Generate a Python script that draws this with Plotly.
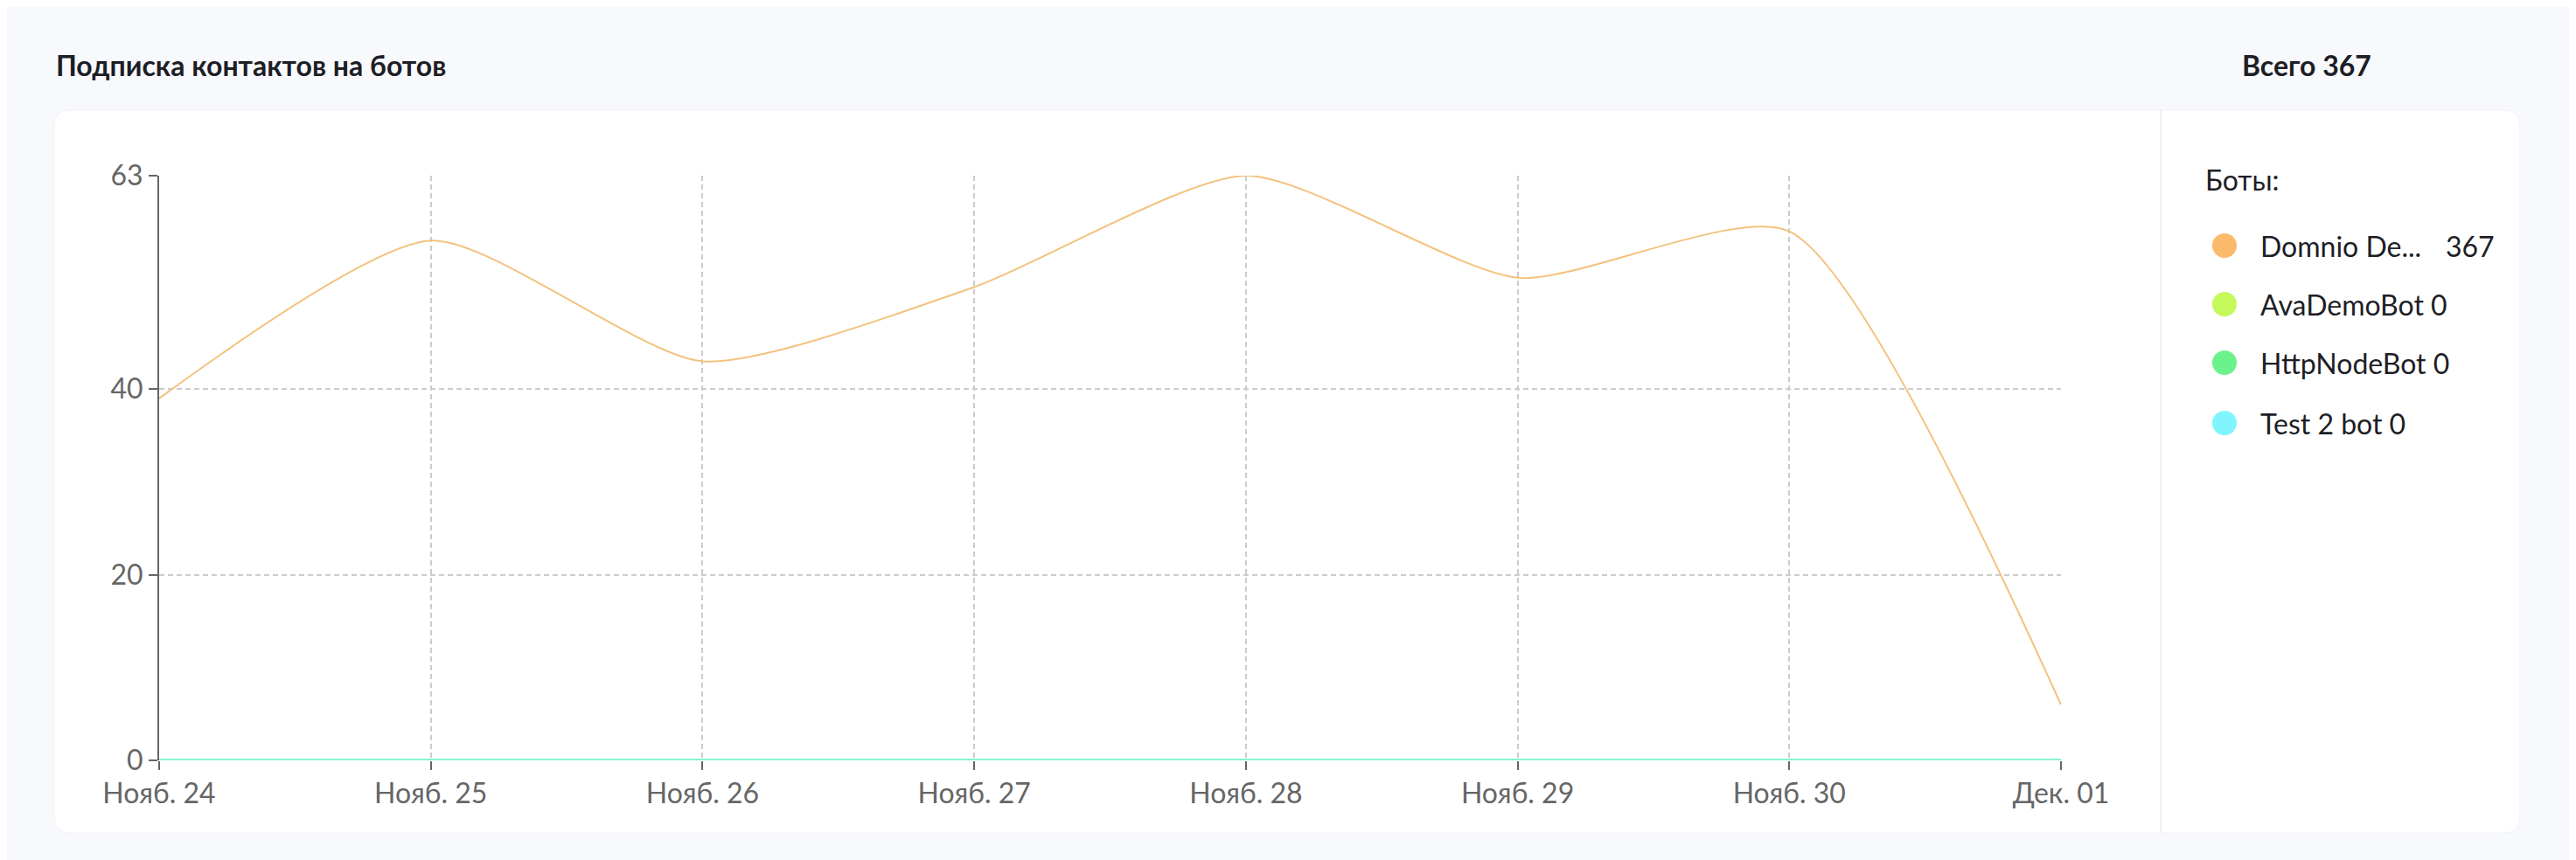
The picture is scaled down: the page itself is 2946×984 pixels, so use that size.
import plotly.graph_objects as go

# ---------------- data ----------------
dates = ["Нояб. 24", "Нояб. 25", "Нояб. 26", "Нояб. 27", "Нояб. 28", "Нояб. 29", "Нояб. 30", "Дек. 01"]
bot_names = ["Domnio De...", "AvaDemoBot", "HttpNodeBot", "Test 2 bot"]
domnio = [39, 56, 43, 51, 63, 52, 57, 6]
ava = [0, 0, 0, 0, 0, 0, 0, 0]
http = [0, 0, 0, 0, 0, 0, 0, 0]
test2 = [0, 0, 0, 0, 0, 0, 0, 0]
series = [domnio, ava, http, test2]
bot_colors = ["#fbb96c", "#c5f95b", "#6cf28a", "#80f5fd"]
y_ticks = [0, 20, 40, 63]
title_text = "Подписка контактов на ботов"
total_label = "Всего"
legend_title = "Боты:"

# ---------------- geometry ----------------
W, H = 2946, 984
OFF = 8  # page body margin
PL, PR, PT, PB = 182, 2357, 201, 870   # plot area in page pixels


def px(x):
    return (x - PL) / (PR - PL)


def py(y):
    return (PB - y) / (PB - PT)


def rrect(x0, y0, x1, y1, r):
    pts = [
        ("M", [(x0 + r, y0)]),
        ("L", [(x1 - r, y0)]),
        ("Q", [(x1, y0), (x1, y0 + r)]),
        ("L", [(x1, y1 - r)]),
        ("Q", [(x1, y1), (x1 - r, y1)]),
        ("L", [(x0 + r, y1)]),
        ("Q", [(x0, y1), (x0, y1 - r)]),
        ("L", [(x0, y0 + r)]),
        ("Q", [(x0, y0), (x0 + r, y0)]),
    ]
    s = ""
    for cmd, ps in pts:
        s += cmd + " " + " ".join(f"{px(a):.6f},{py(b):.6f}" for a, b in ps) + " "
    return s + "Z"


FONT = "Lato, 'Open Sans', sans-serif"
DARK = "#1d1e26"
GREY = "#666666"

fig = go.Figure()

x_idx = list(range(len(dates)))
for i in [1, 2, 3]:
    fig.add_trace(go.Scatter(
        x=x_idx, y=series[i], mode="lines", name=bot_names[i],
        line=dict(color=bot_colors[i], width=4, shape="spline"),
        opacity=0.65, cliponaxis=False, hoverinfo="skip"))
fig.add_trace(go.Scatter(
    x=x_idx, y=series[0], mode="lines", name=bot_names[0],
    line=dict(color="#f3c27f", width=2, shape="spline", smoothing=0.65),
    cliponaxis=False, hoverinfo="skip"))

shapes = []
shapes.append(dict(type="path", xref="paper", yref="paper", layer="below",
                   path=rrect(72, -60, 2870, 5, 18),
                   fillcolor="#ffffff", line=dict(color="#eef0f6", width=1)))
shapes.append(dict(type="path", xref="paper", yref="paper", layer="below",
                   path=rrect(62, 126, 2882, 953, 18),
                   fillcolor="#ffffff", line=dict(color="#f1f2f7", width=1)))
shapes.append(dict(type="line", xref="paper", yref="paper", layer="below",
                   x0=px(2471), x1=px(2471), y0=py(126), y1=py(953),
                   line=dict(color="#eff0f4", width=2)))

annotations = []
annotations.append(dict(text=f"<b>{title_text}</b>", xref="paper", yref="paper",
                        x=px(62), y=py(75), xanchor="left", yanchor="middle",
                        showarrow=False, font=dict(family=FONT, size=32, color=DARK)))
total = sum(sum(s) for s in series)
annotations.append(dict(text=f"<b>{total_label} {total}</b>", xref="paper", yref="paper",
                        x=px(2562), y=py(75), xanchor="left", yanchor="middle",
                        showarrow=False, font=dict(family=FONT, size=32, color=DARK)))
annotations.append(dict(text=legend_title, xref="paper", yref="paper",
                        x=px(2520), y=py(206), xanchor="left", yanchor="middle",
                        showarrow=False, font=dict(family=FONT, size=32, color=DARK)))

leg_y = [281, 348, 415, 484]
LEG_SIZE = 32
for i, name in enumerate(bot_names):
    cy = leg_y[i]
    shapes.append(dict(type="circle", xref="paper", yref="paper",
                       xsizemode="pixel", ysizemode="pixel",
                       xanchor=px(2544), yanchor=py(cy),
                       x0=-14, x1=14, y0=-14, y1=14,
                       fillcolor=bot_colors[i], line=dict(width=0)))
    cnt = sum(series[i])
    if name.endswith("..."):
        annotations.append(dict(text=name, xref="paper", yref="paper",
                                x=px(2583), y=py(cy), xanchor="left", yanchor="middle",
                                showarrow=False, font=dict(family=FONT, size=LEG_SIZE, color=DARK)))
        annotations.append(dict(text=str(cnt), xref="paper", yref="paper",
                                x=px(2795), y=py(cy), xanchor="left", yanchor="middle",
                                showarrow=False, font=dict(family=FONT, size=LEG_SIZE, color=DARK)))
    else:
        annotations.append(dict(text=f"{name} {cnt}", xref="paper", yref="paper",
                                x=px(2583), y=py(cy), xanchor="left", yanchor="middle",
                                showarrow=False, font=dict(family=FONT, size=LEG_SIZE, color=DARK)))

fig.update_layout(
    width=W, height=H,
    margin=dict(l=PL - OFF, r=W - PR + OFF, t=PT - OFF, b=H - PB + OFF, pad=0),
    paper_bgcolor="#f8f9fd",
    plot_bgcolor="rgba(0,0,0,0)",
    showlegend=False,
    shapes=shapes,
    annotations=annotations,
    xaxis=dict(
        range=[0, len(dates) - 1],
        tickmode="array", tickvals=x_idx, ticktext=dates,
        showgrid=True, gridcolor="#cccccc", gridwidth=1.5, griddash="6px,4px",
        zeroline=False, showline=False,
        ticks="outside", ticklen=10, tickwidth=1.5, tickcolor=GREY,
        tickfont=dict(family=FONT, size=32, color=GREY),
        fixedrange=True,
    ),
    yaxis=dict(
        range=[0, 63],
        tickmode="array", tickvals=y_ticks,
        showgrid=True, gridcolor="#cccccc", gridwidth=1.5, griddash="6px,4px",
        zeroline=False, showline=True, linecolor=GREY, linewidth=2,
        ticks="outside", ticklen=10, tickwidth=1.5, tickcolor=GREY,
        tickfont=dict(family=FONT, size=32, color=GREY),
        fixedrange=True,
    ),
)

fig.write_html("out.html")
